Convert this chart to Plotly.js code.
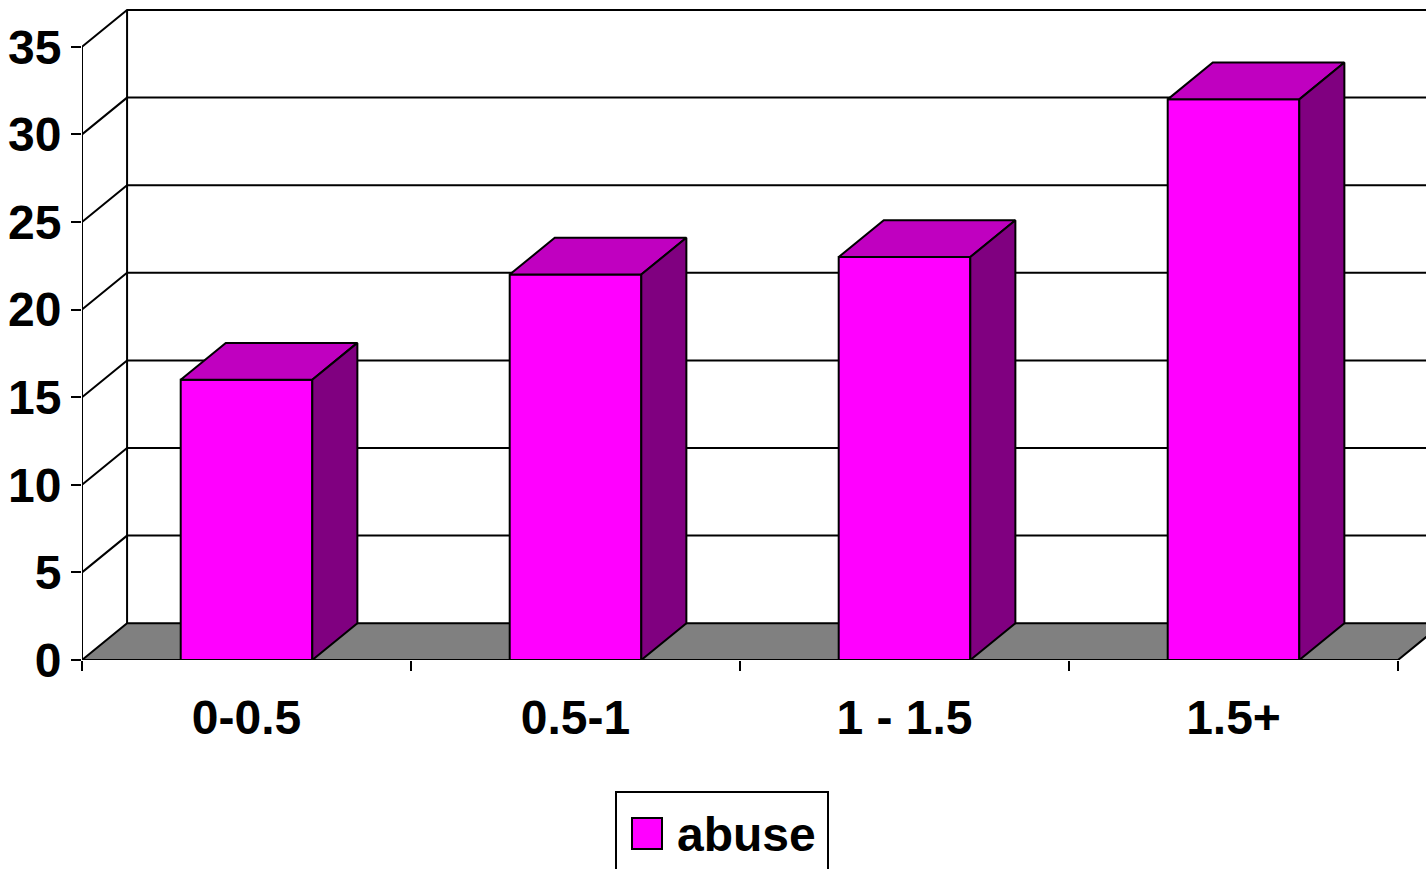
<!DOCTYPE html>
<html>
<head>
<meta charset="utf-8">
<script src="https://cdn.plot.ly/plotly-3.0.1.min.js"></script>
<style>
html,body{margin:0;padding:0;background:#fff;}
#chart{width:1426px;height:869px;}
</style>
</head>
<body>
<div id="chart"></div>
<script>
// data
var categories = ['0-0.5', '0.5-1', '1 - 1.5', '1.5+'];
var abuse = [16, 22, 23, 32];
var yTicks = [0, 5, 10, 15, 20, 25, 30, 35];
var seriesName = 'abuse';

// 3d look: depth offset in axis units
var dx = 0.137, dy = 2.1;
var half = 0.2;
var xmin = -0.5, xmax = -0.5 + 1344 / 329;
var ytop = 651 / 17.52;
var nCat = categories.length;

var font = {family: 'Liberation Sans, Arial, sans-serif', size: 48, color: '#000', weight: 'bold'};

function poly(xs, ys, fill, name) {
  return {x: xs, y: ys, mode: 'lines', fill: 'toself', fillcolor: fill,
    line: {color: '#000', width: 2}, hoverinfo: 'skip', showlegend: false, name: name};
}

var traces = [];

// grid lines on the back wall + little diagonals on the left wall
var gx = [], gy = [];
yTicks.forEach(function(v) {
  if (v === 0) return;
  gx.push(xmin, xmin + dx, xmax, null);
  gy.push(v, v + dy, v + dy, null);
});
// back wall left edge
gx.push(xmin + dx, xmin + dx, null);
gy.push(dy, yTicks[yTicks.length - 1] + dy, null);
// front value axis
gx.push(xmin, xmin, null);
gy.push(0, yTicks[yTicks.length - 1], null);
traces.push({x: gx, y: gy, mode: 'lines', line: {color: '#000', width: 2}, hoverinfo: 'skip', showlegend: false});

// floor
var xend = xmin + nCat;
traces.push(poly([xmin, xend, xend + dx, xmax + 0.2, xmax + 0.2, xmin + dx, xmin],
                 [0, 0, dy, dy, dy, dy, 0], '#808080', 'floor'));

// bars: front, top, side faces
var fx = [], fy = [], tx = [], ty = [], sx = [], sy = [];
abuse.forEach(function(v, i) {
  var l = i - half, r = i + half;
  fx.push(l, r, r, l, l, null); fy.push(0, 0, v, v, 0, null);
  tx.push(l, r, r + dx, l + dx, l, null); ty.push(v, v, v + dy, v + dy, v, null);
  sx.push(r, r + dx, r + dx, r, r, null); sy.push(0, dy, v + dy, v, 0, null);
});
traces.push(poly(fx, fy, '#FF00FF', seriesName));
traces.push(poly(tx, ty, '#C000C0', seriesName));
traces.push(poly(sx, sy, '#800080', seriesName));

// legend drawn by hand (box, swatch, label) in paper units
function px(x) { return (x - 82) / 1344; }
function py(y) { return (660 - y) / 651; }

var layout = {
  width: 1426, height: 869,
  margin: {l: 82, r: 0, t: 9, b: 209},
  paper_bgcolor: '#fff', plot_bgcolor: 'rgba(0,0,0,0)',
  showlegend: false,
  hovermode: false,
  xaxis: {
    range: [xmin, xmax], showgrid: false, zeroline: false, showline: false,
    tickvals: categories.map(function(c, i) { return i; }),
    ticktext: categories, ticks: '', tickfont: font, ticklabelstandoff: 25,
    minor: {tickvals: categories.map(function(c, i) { return i - 0.5; }).concat([nCat - 0.5]),
            ticks: 'outside', ticklen: 10, tickwidth: 2, tickcolor: '#000', showgrid: false}
  },
  yaxis: {
    range: [0, ytop], showgrid: false, zeroline: false, showline: false,
    tickvals: yTicks, ticks: 'outside', ticklen: 10, tickwidth: 2, tickcolor: '#000',
    tickfont: font
  },
  shapes: [
    {type: 'rect', xref: 'paper', yref: 'paper', x0: px(616), x1: px(828), y0: py(792), y1: py(890),
     line: {color: '#000', width: 2}, fillcolor: '#fff'},
    {type: 'rect', xref: 'paper', yref: 'paper', x0: px(632), x1: px(662), y0: py(818), y1: py(849),
     line: {color: '#000', width: 2}, fillcolor: '#FF00FF'}
  ],
  annotations: [
    {xref: 'paper', yref: 'paper', x: px(675), y: py(834), xanchor: 'left', yanchor: 'middle',
     text: seriesName, showarrow: false, font: font}
  ]
};

Plotly.newPlot('chart', traces, layout, {displayModeBar: false, staticPlot: true});
</script>
</body>
</html>
